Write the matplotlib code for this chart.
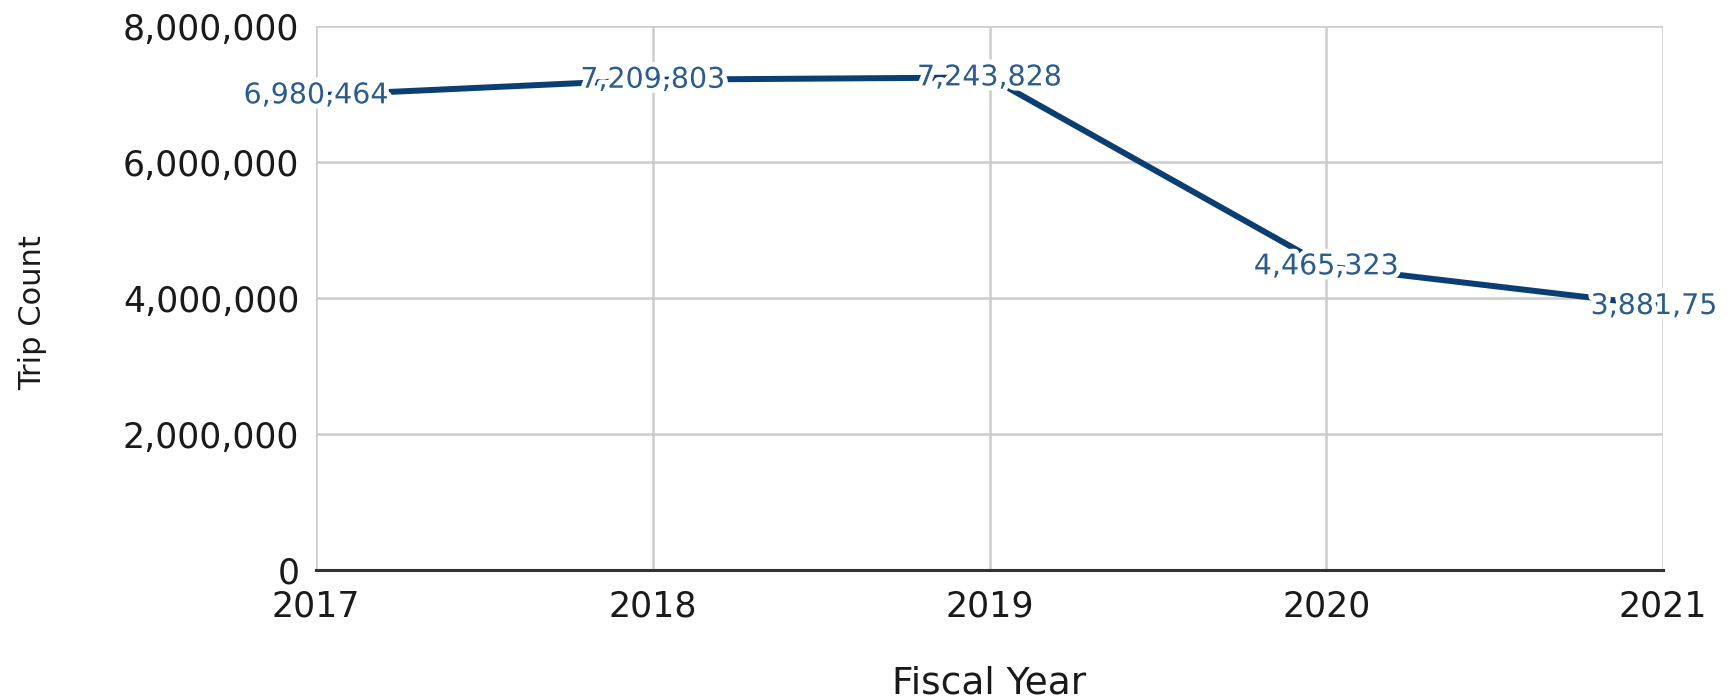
import matplotlib
matplotlib.use("Agg")
import matplotlib.pyplot as plt
import matplotlib.patheffects as pe
from matplotlib.transforms import Bbox
from matplotlib.ticker import FuncFormatter

years = [2017, 2018, 2019, 2020, 2021]
trips = [6980464, 7209803, 7243828, 4465323, 3881750]
y_ticks = [0, 2000000, 4000000, 6000000, 8000000]

plt.rcParams['font.family'] = ['DejaVu Sans']

W, H = 1735, 699
fig = plt.figure(figsize=(W / 100, H / 100), dpi=100)
ax = fig.add_axes([316 / W, 1 - 570 / H, (1663 - 316) / W, (570 - 26) / H])

ax.set_xlim(years[0], years[-1])
ax.set_ylim(0, 8000000)
ax.set_xticks(years)
ax.set_yticks(y_ticks)
ax.yaxis.set_major_formatter(FuncFormatter(lambda v, p: f"{int(v):,}"))
ax.grid(True, color='#cccccc', linewidth=1.8)
ax.set_axisbelow(True)
for s in ['left', 'right', 'top']:
    ax.spines[s].set_visible(False)
ax.spines['bottom'].set_color('#333333')
ax.spines['bottom'].set_linewidth(2.2)
ax.spines['bottom'].set_zorder(3)
ax.tick_params(length=0, labelsize=25, labelcolor='#1a1a1a')
ax.tick_params(axis='y', pad=12)
ax.tick_params(axis='x', pad=14)

ax.plot(years, trips, color='#0b3e73', linewidth=4.3, zorder=4, clip_on=False,
        solid_capstyle='butt')

clip = Bbox.from_extents(0, 0, 1715, H)
for x, y in zip(years, trips):
    t = ax.text(x, y, f"{y:,}", ha='center', va='center', fontsize=20.5,
                color='#2b5c8c', zorder=5,
                path_effects=[pe.withStroke(linewidth=7, foreground='white')])
    t.set_clip_on(True)
    t.set_clip_box(clip)

ax.set_xlabel("Fiscal Year", fontsize=27, color='#1a1a1a')
ax.set_ylabel("Trip Count", fontsize=22, color='#1a1a1a')
ax.xaxis.label.set_va('center')
ax.yaxis.label.set_va('center')
ax.yaxis.set_label_coords(-(316 - 33) / (1663 - 316), (570 - 313) / (570 - 26))
ax.xaxis.set_label_coords(0.5, -(684 - 570) / (570 - 26))

fig.savefig("out.png", dpi=100)
